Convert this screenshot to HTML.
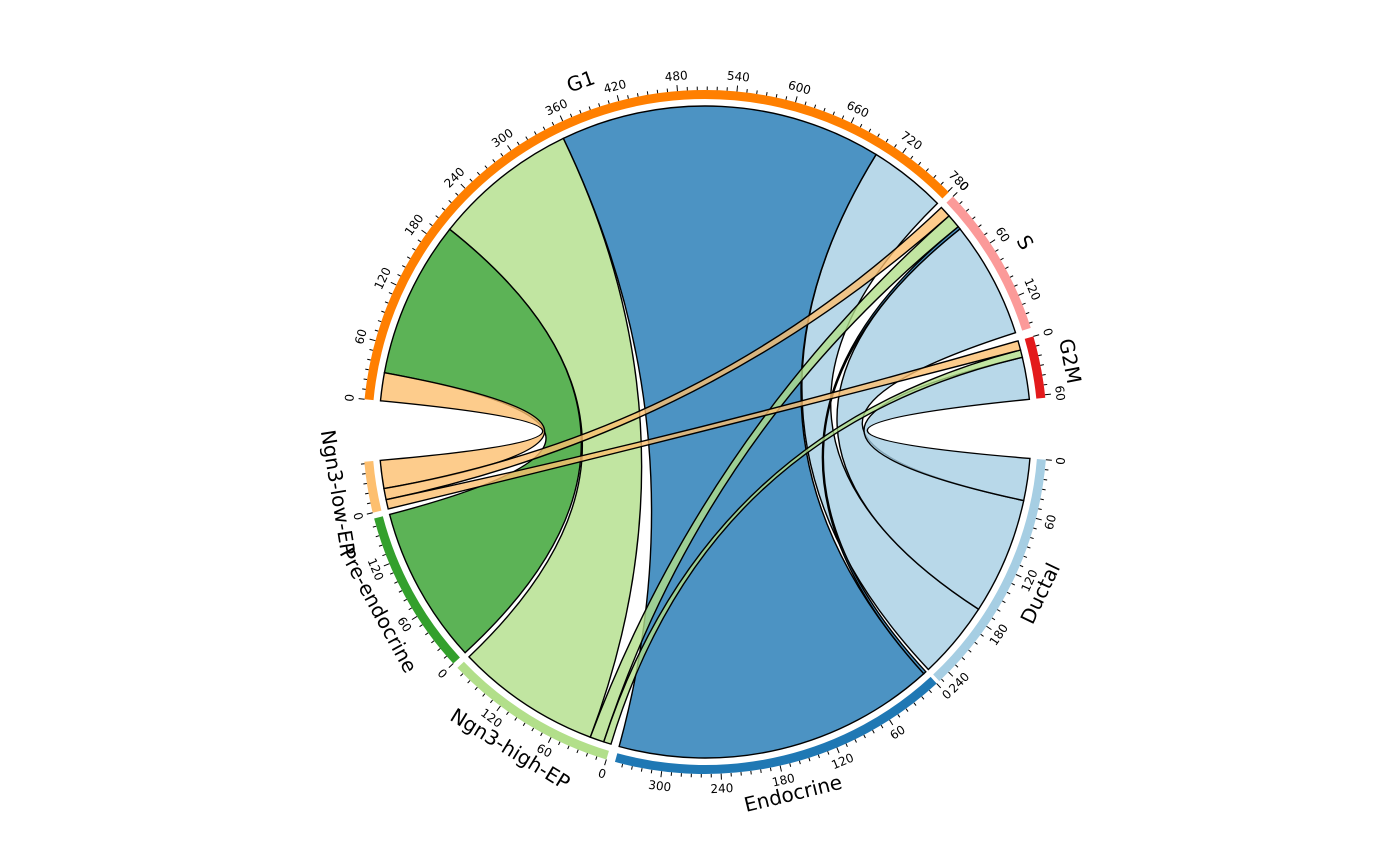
<!DOCTYPE html>
<html><head><meta charset="utf-8"><style>
html,body{margin:0;padding:0;background:#fff;}
svg{display:block;font-family:"DejaVu Sans","Liberation Sans",sans-serif;}
</style></head><body>
<svg id="chart" width="1400" height="866" viewBox="0 0 1400 866" xmlns="http://www.w3.org/2000/svg">
<g id="ribbons"></g>
<g id="arcs"></g>
<g id="ticks"></g>
<g id="labels"></g>
</svg>
<script>
const cycleNames = ['G1','S','G2M'];
const typeNames = ['Ductal','Endocrine','Ngn3-high-EP','Pre-endocrine','Ngn3-low-EP'];
// rows: G1, S, G2M ; cols: Ductal, Endocrine, Ngn3-high-EP, Pre-endocrine, Ngn3-low-EP
const rowG1 = [83, 345, 155, 168, 30];
const rowS = [125, 3, 15, 0, 12];
const rowG2M = [45, 0, 8, 0, 10];
const cycleColors = ['#ff7f00','#fb9a99','#e31a1c'];
const typeColors = ['#a6cee3','#1f78b4','#b2df8a','#33a02c','#fdbf6f'];

const matrix = [rowG1, rowS, rowG2M];
const CX=705, CY=432, RC=326, RB0=333, RB1=342;
const START=174.5;
const gaps=[1,1.5,10.4,0.6,1.5,1,1,10.5];
const NS='http://www.w3.org/2000/svg';
function mk(tag,attrs,parent){const e=document.createElementNS(NS,tag);for(const k in attrs)e.setAttribute(k,attrs[k]);parent.appendChild(e);return e;}
function pt(a,r){const t=a*Math.PI/180;return [CX+r*Math.cos(t),CY-r*Math.sin(t)];}

// segments
const segs=[];
cycleNames.forEach((n,i)=>segs.push({name:n,color:cycleColors[i],total:matrix[i].reduce((a,b)=>a+b,0),kind:'c',idx:i}));
typeNames.forEach((n,j)=>segs.push({name:n,color:typeColors[j],total:matrix.reduce((a,r)=>a+r[j],0),kind:'t',idx:j}));
const grand=segs.reduce((a,s)=>a+s.total,0);
const scale=(360-gaps.reduce((a,b)=>a+b,0))/grand;
let ang=START;
segs.forEach((s,i)=>{s.a0=ang;s.a1=ang-s.total*scale;ang=s.a1-gaps[i];s.cur=s.a0;});

// allocate sub-ranges
const subC={},subT={};
segs.filter(s=>s.kind==='c').forEach(s=>{
  for(let j=typeNames.length-1;j>=0;j--){const v=matrix[s.idx][j];if(!v)continue;subC[s.idx+'_'+j]=[s.cur,s.cur-v*scale];s.cur-=v*scale;}
});
segs.filter(s=>s.kind==='t').forEach(s=>{
  for(let i=cycleNames.length-1;i>=0;i--){const v=matrix[i][s.idx];if(!v)continue;subT[i+'_'+s.idx]=[s.cur,s.cur-v*scale];s.cur-=v*scale;}
});

const rib=document.getElementById('ribbons');
for(let i=0;i<cycleNames.length;i++)for(let j=0;j<typeNames.length;j++){
  const v=matrix[i][j];if(!v)continue;
  const a=subC[i+'_'+j],b=subT[i+'_'+j];
  const p1=pt(a[0],RC),p2=pt(a[1],RC),p3=pt(b[0],RC),p4=pt(b[1],RC);
  const la=(a[0]-a[1])>180?1:0, lb=(b[0]-b[1])>180?1:0;
  const d=`M${p1}A${RC},${RC} 0 ${la} 1 ${p2}Q${CX},${CY} ${p3}A${RC},${RC} 0 ${lb} 1 ${p4}Q${CX},${CY} ${p1}Z`;
  const e=mk('path',{d:d,fill:typeColors[j],'fill-opacity':0.8,stroke:'#000','stroke-width':1.4},rib);
  
  
}

const arcs=document.getElementById('arcs'),tk=document.getElementById('ticks'),lb=document.getElementById('labels');
function rot(a){let x=((a%360)+360)%360;return (x>0&&x<180)?90-a:-90-a;}
segs.forEach(s=>{
  const rm=(RB0+RB1)/2;
  const p1=pt(s.a0,rm),p2=pt(s.a1,rm);
  const e=mk('path',{d:`M${p1}A${rm},${rm} 0 0 1 ${p2}`,fill:'none',stroke:s.color,'stroke-width':RB1-RB0},arcs);
  
  
  for(let v=0;v<=s.total;v+=10){
    const a=s.a0-v*scale,maj=v%60===0;
    const q1=pt(a,RB1),q2=pt(a,RB1+(maj?6:3.5));
    mk('line',{x1:q1[0],y1:q1[1],x2:q2[0],y2:q2[1],stroke:'#000','stroke-width':1},tk);
    if(maj){
      const q=pt(a,RB1+15);
      const t=mk('text',{x:q[0],y:q[1],'font-size':12,'text-anchor':'middle','dominant-baseline':'central',transform:`rotate(${rot(a)} ${q[0]} ${q[1]})`},tk);
      t.textContent=v;
      
      
    }
  }
  const am=(s.a0+s.a1)/2,q=pt(am,372);
  const t=mk('text',{x:q[0],y:q[1],'font-size':20,'text-anchor':'middle','dominant-baseline':'central',transform:`rotate(${rot(am)} ${q[0]} ${q[1]})`},lb);
  t.textContent=s.name;
  
  
});
</script>
</body></html>
